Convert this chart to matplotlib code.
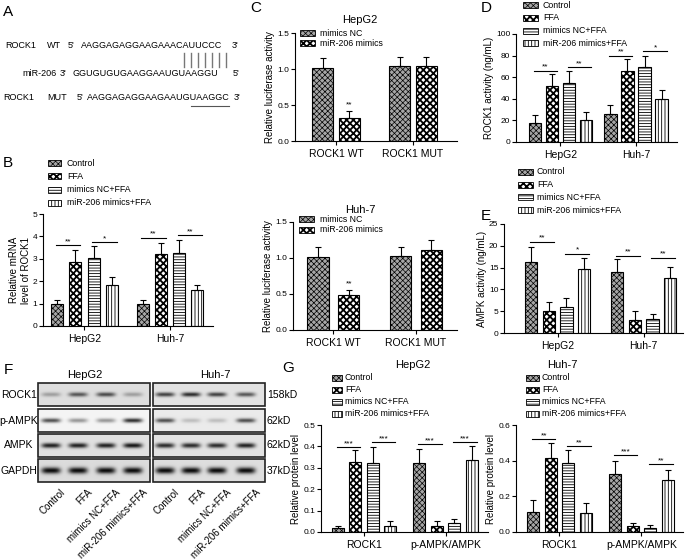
import numpy as np
import matplotlib.pyplot as plt
from matplotlib.patches import Rectangle

plt.rcParams['font.family'] = ['Liberation Sans', 'DejaVu Sans']
plt.rcParams['hatch.linewidth'] = 0.6

cells = ['HepG2', 'Huh-7']
treat = ['Control', 'FFA', 'mimics NC+FFA', 'miR-206 mimics+FFA']

# B - relative mRNA level of ROCK1
mrna_mean = [[1.0, 2.85, 3.02, 1.85], [1.0, 3.2, 3.25, 1.6]]
mrna_err = [[0.15, 0.55, 0.53, 0.32], [0.15, 0.52, 0.6, 0.22]]
mrna_sig = [[(0, 1, 3.6, '**'), (2, 3, 3.75, '*')], [(0, 1, 3.95, '**'), (2, 3, 4.05, '**')]]

# C - luciferase
luc_groups = ['ROCK1 WT', 'ROCK1 MUT']
luc_labels = ['mimics NC', 'miR-206 mimics']
luc_hep_mean = [[1.02, 0.32], [1.04, 1.04]]
luc_hep_err = [[0.13, 0.10], [0.13, 0.12]]
luc_hep_sig = [[(1, 0.45, '**')], []]
luc_huh_mean = [[1.01, 0.48], [1.03, 1.11]]
luc_huh_err = [[0.14, 0.08], [0.12, 0.14]]
luc_huh_sig = [[(1, 0.59, '**')], []]

# D - ROCK1 activity
rock_mean = [[18, 52, 55, 20.5], [26, 65.5, 69.5, 39.5]]
rock_err = [[7, 11, 11, 7.5], [8, 11.5, 10.5, 8.5]]
rock_sig = [[(0, 1, 66, '**'), (2, 3, 69, '**')], [(0, 1, 80, '**'), (2, 3, 84, '*')]]

# E - AMPK activity
ampk_mean = [[16.3, 5.1, 6.0, 14.7], [14.0, 3.0, 3.2, 12.7]]
ampk_err = [[3.5, 1.9, 2.0, 2.4], [3.0, 2.0, 1.2, 2.5]]
ampk_sig = [[(0, 1, 20.9, '**'), (2, 3, 18.2, '*')], [(0, 1, 17.7, '**'), (2, 3, 17.3, '**')]]

# G - relative protein level
prot_groups = ['ROCK1', 'p-AMPK/AMPK']
prot_hep_mean = [[0.02, 0.325, 0.323, 0.03], [0.323, 0.03, 0.043, 0.337]]
prot_hep_err = [[0.01, 0.06, 0.072, 0.02], [0.067, 0.02, 0.02, 0.063]]
prot_hep_sig = [[(0, 1, 0.395, '***'), (2, 3, 0.42, '***')], [(0, 1, 0.41, '***'), (2, 3, 0.42, '***')]]
prot_huh_mean = [[0.113, 0.415, 0.385, 0.105], [0.325, 0.032, 0.025, 0.29]]
prot_huh_err = [[0.065, 0.085, 0.077, 0.055], [0.075, 0.018, 0.013, 0.06]]
prot_huh_sig = [[(0, 1, 0.52, '**'), (2, 3, 0.48, '**')], [(0, 1, 0.43, '***'), (2, 3, 0.38, '**')]]

# F - western blot band darkness per lane (0 none .. 1 saturated)
blot_rows = ['ROCK1', 'p-AMPK', 'AMPK', 'GAPDH']
blot_kd = ['158kD', '62kD', '62kD', '37kD']
blot_hep = [[0.3, 0.65, 0.7, 0.3], [0.7, 0.4, 0.4, 0.85], [0.9, 0.9, 0.9, 0.95], [1, 1, 1, 1]]
blot_huh = [[0.75, 0.85, 0.75, 0.65], [0.7, 0.2, 0.2, 0.7], [0.85, 0.85, 0.85, 0.9], [1, 1, 1, 1]]

# fill styles: (kwargs, hatch line width)
styles = [
    (dict(facecolor='#a6a6a6', hatch='xxxxxx'), 0.5),
    (dict(facecolor='white', hatch='xxxxx'), 1.3),
    (dict(facecolor='white', hatch='------'), 0.6),
    (dict(facecolor='white', hatch='|||||'), 0.6),
]
luc_styles = [styles[0], styles[1]]

W, H = 685, 559
fig = plt.figure(figsize=(W / 100, H / 100), dpi=100)


def box(x0, y0, x1, y1):
    return fig.add_axes([x0 / W, 1 - y1 / H, (x1 - x0) / W, (y1 - y0) / H])


def hatched(artist, hlw):
    try:
        artist.set_hatch_linewidth(hlw)
    except AttributeError:
        pass


def bars(ax, means, errs, stys, step, width, xlim, sigs=None):
    n = len(means[0])
    for g in range(len(means)):
        xs = [g + (i - (n - 1) / 2) * step for i in range(n)]
        for i in range(n):
            kw, hlw = stys[i]
            with plt.rc_context({'hatch.linewidth': hlw}):
                bc = ax.bar(xs[i], means[g][i], width, edgecolor='black', linewidth=0.8, **kw)
            for p in bc:
                hatched(p, hlw)
            ax.errorbar(xs[i], means[g][i], yerr=[[0], [errs[g][i]]], color='black',
                        capsize=2.5, lw=0.8, capthick=0.8)
        if sigs:
            for i, j, y, s in sigs[g]:
                ax.plot([xs[i] - width * 0.1, xs[j] + width * 0.4], [y, y], color='black', lw=0.8)
                ax.text((xs[i] + xs[j]) / 2 + width * 0.15, y, s, ha='center', va='bottom', fontsize=6)
    ax.set_xlim(*xlim)


def style(ax, ylim, yticks, fmt, xlabels, ylabel):
    ax.spines[['top', 'right']].set_visible(False)
    ax.spines[['left', 'bottom']].set_linewidth(0.8)
    ax.set_ylim(*ylim)
    ax.set_yticks(yticks)
    ax.set_yticklabels([fmt.format(v) for v in yticks])
    ax.set_xticks(range(len(xlabels)), xlabels)
    ax.tick_params(axis='y', labelsize=6, length=3, width=0.8, pad=1)
    ax.tick_params(axis='x', labelsize=7.5, length=3, width=0.8, pad=3)
    ax.set_ylabel(ylabel, fontsize=7, labelpad=1.5)


# B
axB = box(43, 214, 213, 326)
bars(axB, mrna_mean, mrna_err, styles, 0.214, 0.14, (-0.485, 1.503), mrna_sig)
style(axB, (0, 5), [0, 1, 2, 3, 4, 5], '{:g}', cells, 'Relative mRNA\nlevel of ROCK1')

# C top / bottom
axC1 = box(295, 33, 457, 141)
bars(axC1, luc_hep_mean, luc_hep_err, luc_styles, 0.35, 0.27, (-0.532, 1.571))
style(axC1, (0, 1.5), [0, 0.5, 1.0, 1.5], '{:.1f}', luc_groups, 'Relative luciferase activity')
axC2 = box(293, 222, 457, 330)
bars(axC2, luc_huh_mean, luc_huh_err, luc_styles, 0.37, 0.26, (-0.49, 1.497))
style(axC2, (0, 1.5), [0, 0.5, 1.0, 1.5], '{:.1f}', luc_groups, 'Relative luciferase activity')
for ax, sig, step in [(axC1, luc_hep_sig, 0.35), (axC2, luc_huh_sig, 0.37)]:
    for g, lst in enumerate(sig):
        for i, y, s in lst:
            ax.text(g + (i - 0.5) * step, y, s, ha='center', va='bottom', fontsize=6)

# D
axD = box(516, 34, 677, 142)
bars(axD, rock_mean, rock_err, styles, 0.227, 0.165, (-0.589, 1.543), rock_sig)
style(axD, (0, 100), [0, 20, 40, 60, 80, 100], '{:g}', cells, 'ROCK1 activity (ng/mL)')

# E
axE = box(504, 224, 683, 333)
bars(axE, ampk_mean, ampk_err, styles, 0.205, 0.14, (-0.624, 1.457), ampk_sig)
style(axE, (0, 25), [0, 5, 10, 15, 20, 25], '{:g}', cells, 'AMPK activity (ng/mL)')

# G
axG1 = box(321, 425, 488, 532)
bars(axG1, prot_hep_mean, prot_hep_err, styles, 0.214, 0.147, (-0.527, 1.52), prot_hep_sig)
style(axG1, (0, 0.5), [0, 0.1, 0.2, 0.3, 0.4, 0.5], '{:.1f}', prot_groups, 'Relative protein level')
axG2 = box(516, 425, 683, 532)
bars(axG2, prot_huh_mean, prot_huh_err, styles, 0.215, 0.146, (-0.53, 1.506), prot_huh_sig)
style(axG2, (0, 0.6), [0, 0.2, 0.4, 0.6], '{:.1f}', prot_groups, 'Relative protein level')

# overlay in pixel coordinates
ov = fig.add_axes([0, 0, 1, 1], zorder=5)
ov.patch.set_visible(False)
ov.axis('off')
ov.set_xlim(0, W)
ov.set_ylim(H, 0)


def legend(x, y0, dy, labels, stys, pw, ph, tx, fs=6.3):
    for k, lab in enumerate(labels):
        y = y0 + k * dy
        kw, hlw = stys[k]
        with plt.rc_context({'hatch.linewidth': hlw}):
            p = Rectangle((x, y - ph / 2), pw, ph, edgecolor='black', linewidth=0.6, **kw)
        hatched(p, hlw)
        ov.add_patch(p)
        ov.text(tx, y, lab, va='center', ha='left', fontsize=fs)


legend(48, 163, 13.3, treat, styles, 13, 6, 67)
legend(300, 33, 10, luc_labels, luc_styles, 15, 6, 320)
legend(299, 219, 11, luc_labels, luc_styles, 15, 6, 320)
legend(523, 5, 12.8, treat, styles, 15, 6, 543)
legend(518, 172, 12.7, treat, styles, 15, 6, 537)
legend(332, 378, 12, treat, styles, 10, 6, 345)
legend(526, 378, 12, treat, styles, 13, 6, 542)

# titles
ov.text(360, 20, 'HepG2', ha='center', va='center', fontsize=8)
ov.text(360, 210, 'Huh-7', ha='center', va='center', fontsize=8)
ov.text(413, 365, 'HepG2', ha='center', va='center', fontsize=8)
ov.text(562, 365, 'Huh-7', ha='center', va='center', fontsize=8)

# panel letters
for lab, x, y in [('A', 8, 12), ('B', 8, 163), ('C', 256, 8), ('D', 486, 8),
                  ('E', 486, 216), ('F', 8, 370), ('G', 288, 368)]:
    ov.text(x, y, lab, ha='center', va='center', fontsize=11)

# A - sequences
fsA = 6.5
for x, y, s in [(5, 45, 'ROCK1'), (47, 45, 'WT'), (68, 45, "5'"),
                (81, 45, 'AAGGAGAGGAAGAAACAUUCCC'), (232, 45, "3'"),
                (22, 73, 'miR-206'), (60, 73, "3'"),
                (73, 73, 'GGUGUGUGAAGGAAUGUAAGGU'), (233, 73, "5'"),
                (3, 98, 'ROCK1'), (47, 98, 'MUT'), (77, 98, "5'"),
                (87, 98, 'AAGGAGAGGAAGAAUGUAAGGC'), (234, 98, "3'")]:
    ov.text(x, y, s, ha='left', va='center', fontsize=fsA)
for bx in [184, 191, 198, 205, 212, 219, 226]:
    ov.plot([bx, bx], [53, 67], color='#777777', lw=1)
ov.plot([191, 229], [106, 106], color='#555555', lw=0.8)

# F - blots
rows_y = [(383, 406), (409, 432), (434, 457), (459, 482)]
band_h = [2.2, 2.2, 2.5, 3.2]
bg_hep = [0.87, 0.96, 0.88, 0.86]
bg_huh = [0.89, 0.92, 0.89, 0.87]
lanes_hep = [51, 78, 106, 133]
lanes_huh = [165, 191, 217, 246]


def blot(x0, x1, intens, lanes, bgs):
    for r, (ya, yb) in enumerate(rows_y):
        xx = np.linspace(x0, x1, int(x1 - x0) * 3)
        yy = np.linspace(ya, yb, int(yb - ya) * 3)
        X, Y = np.meshgrid(xx, yy)
        img = np.full_like(X, bgs[r])
        yc = (ya + yb) / 2
        for lx, v in zip(lanes, intens[r]):
            img -= bgs[r] * 0.95 * v * np.exp(-((X - lx) / 9.5) ** 4) * np.exp(-((Y - yc) / band_h[r]) ** 2)
        ov.imshow(img, cmap='gray', vmin=0, vmax=1, extent=(x0, x1, yb, ya),
                  aspect='auto', interpolation='bilinear')
        ov.add_patch(Rectangle((x0, ya), x1 - x0, yb - ya, fill=False, edgecolor='#222222', lw=1.2))


blot(38, 150, blot_hep, lanes_hep, bg_hep)
blot(153, 265, blot_huh, lanes_huh, bg_huh)
ov.text(85, 375, 'HepG2', ha='center', va='center', fontsize=8)
ov.text(215, 375, 'Huh-7', ha='center', va='center', fontsize=8)
for (ya, yb), lab, kd in zip(rows_y, blot_rows, blot_kd):
    ov.text(19, (ya + yb) / 2, lab, ha='center', va='center', fontsize=7.5)
    ov.text(267, (ya + yb) / 2, kd, ha='left', va='center', fontsize=7.5)
for lx, lab in zip(lanes_hep + lanes_huh, treat + treat):
    ov.text(lx + 9, 487, lab, ha='right', va='top', rotation=45, rotation_mode='anchor', fontsize=7)

ov.set_xlim(0, W)
ov.set_ylim(H, 0)

fig.savefig('out.png', dpi=100)
